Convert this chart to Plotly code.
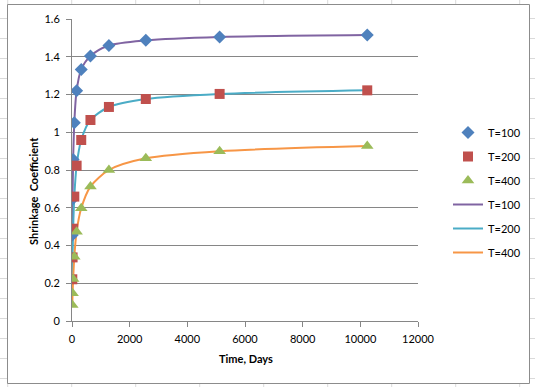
import plotly.graph_objects as go

# ---- data ----
time_days = [10, 20, 40, 80, 160, 320, 640, 1280, 2560, 5120, 10240]
t100 = [0.456, 0.646, 0.855, 1.05, 1.22, 1.333, 1.404, 1.46, 1.487, 1.505, 1.515]
t200 = [0.221, 0.337, 0.489, 0.659, 0.823, 0.959, 1.065, 1.134, 1.176, 1.203, 1.222]
t400 = [0.085, 0.147, 0.222, 0.341, 0.473, 0.597, 0.712, 0.80, 0.862, 0.90, 0.927]
series_names = ["T=100", "T=200", "T=400"]
y_ticks = [0, 0.2, 0.4, 0.6, 0.8, 1, 1.2, 1.4, 1.6]
x_ticks = [0, 2000, 4000, 6000, 8000, 10000, 12000]

W, H = 535, 387
L, R, T, B = 72, 418, 19, 321  # plot area in pixels

def px(x):
    return (x - L) / (R - L)

def py(y):
    return (B - y) / (B - T)

FONT = "Lato, 'Noto Sans', sans-serif"
GRID = "#868686"

fig = go.Figure()

line_colors = ["#8064A2", "#4BACC6", "#F79646"]
marker_colors = ["#4F81BD", "#C0504D", "#9BBB59"]
marker_symbols = ["diamond", "square", "triangle-up"]
marker_sizes = [10, 10, 11]
vals = [t100, t200, t400]

for i in range(3):
    fig.add_trace(go.Scatter(
        x=time_days, y=vals[i], mode="lines", name=series_names[i],
        line=dict(color=line_colors[i], width=2, shape="spline", smoothing=0.8),
        legendrank=4 + i, legendgroup="l%d" % i,
    ))
for i in range(3):
    fig.add_trace(go.Scatter(
        x=time_days, y=vals[i], mode="markers", name=series_names[i],
        marker=dict(color=marker_colors[i], symbol=marker_symbols[i], size=marker_sizes[i],
                    line=dict(width=0)),
        legendrank=1 + i, legendgroup="m%d" % i,
    ))

shapes = []
sheet = "#dadada"
# spreadsheet grid behind the chart
for xpix in [7.7 + 64 * k for k in range(-1, 10)]:
    shapes.append(dict(type="line", xref="paper", yref="paper", x0=px(xpix), x1=px(xpix),
                       y0=py(-5), y1=py(H + 5), line=dict(color=sheet, width=1), layer="below"))
for ypix in [18.5 + 20 * k for k in range(-1, 21)]:
    shapes.append(dict(type="line", xref="paper", yref="paper", x0=px(-5), x1=px(W + 5),
                       y0=py(ypix), y1=py(ypix), line=dict(color=sheet, width=1), layer="below"))
# chart area
shapes.append(dict(type="rect", xref="paper", yref="paper", x0=px(7.5), x1=px(529.5),
                   y0=py(383.5), y1=py(4.5), fillcolor="white",
                   line=dict(color="#8c8c8c", width=1), layer="below"))

annotations = [
    dict(text="<b>Time, Days</b>", xref="paper", yref="paper", x=px(246), y=py(358),
         xanchor="center", yanchor="middle", showarrow=False, font=dict(size=11)),
    dict(text="<b>Shrinkage  Coefficient</b>", xref="paper", yref="paper", x=px(33), y=py(191),
         xanchor="center", yanchor="middle", textangle=-90, showarrow=False, font=dict(size=11)),
]

fig.update_layout(
    width=W, height=H,
    margin=dict(l=L, r=W - R, t=T, b=H - B, pad=0, autoexpand=False),
    paper_bgcolor="white", plot_bgcolor="rgba(0,0,0,0)",
    font=dict(family=FONT, size=11, color="#000000"),
    shapes=shapes, annotations=annotations,
    showlegend=True,
    legend=dict(x=px(448), xanchor="left", y=py(118), yanchor="top",
                bgcolor="rgba(0,0,0,0)", font=dict(size=11, family=FONT),
                tracegroupgap=5, itemwidth=30),
    xaxis=dict(range=[0, 12000], tickvals=x_ticks, ticktext=[str(v) for v in x_ticks],
               showgrid=False, zeroline=False, showline=True, linecolor=GRID, linewidth=1,
               ticks="outside", ticklen=5, tickcolor=GRID, tickfont=dict(size=11),
               ticklabelstandoff=3, automargin=False),
    yaxis=dict(range=[0, 1.6], tickvals=y_ticks, ticktext=[str(v) for v in y_ticks],
               showgrid=True, gridcolor=GRID, gridwidth=1, zeroline=False,
               showline=True, linecolor=GRID, linewidth=1,
               ticks="outside", ticklen=5, tickcolor=GRID, tickfont=dict(size=11),
               ticklabelstandoff=4, automargin=False),
)

fig.write_html(
    "out.html",
    config={"displayModeBar": False},
    post_script="document.body.style.margin='0';document.body.style.overflow='hidden';",
)
